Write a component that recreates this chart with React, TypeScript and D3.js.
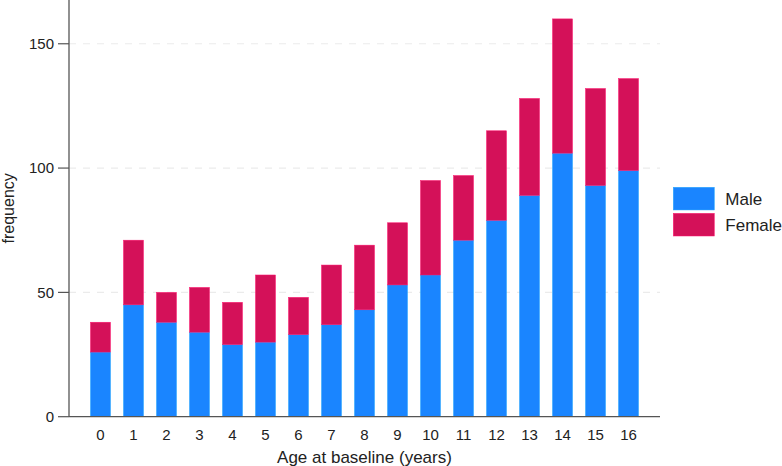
import React from 'react';
import * as d3 from 'd3';

const ages = ['0', '1', '2', '3', '4', '5', '6', '7', '8', '9', '10', '11', '12', '13', '14', '15', '16'];
const male = [26, 45, 38, 34, 29, 30, 33, 37, 43, 53, 57, 71, 79, 89, 106, 93, 99];
const female = [12, 26, 12, 18, 17, 27, 15, 24, 26, 25, 38, 26, 36, 39, 54, 39, 37];
const yTicks = [0, 50, 100, 150];
const seriesNames = ['Male', 'Female'];
const seriesColors = ['#1A85FF', '#D41159'];

const width = 782;
const height = 466;
const left = 69;
const right = 660;
const bottom = 416.7;
const font = '"Liberation Sans", Arial, sans-serif';
const textColor = '#222';

const App = () => {
  const x = d3.scaleBand<string>()
    .domain(ages)
    .range([left, right])
    .paddingInner(0.394)
    .paddingOuter(0.651);

  const y = d3.scaleLinear().domain([0, 167.6]).range([bottom, 0]);

  const rows = ages.map((age, i) => ({ age, Male: male[i], Female: female[i] }));
  const stacked = d3.stack<any>().keys(seriesNames)(rows);

  const legend = d3.scaleBand<string>().domain(seriesNames).range([187.3, 236]).paddingInner(0.13);

  return (
    <svg width={width} height={height} style={{ position: 'absolute', left: 0, top: 0, background: '#fff' }}>
      {/* dashed grid */}
      {yTicks.filter(t => t > 0).map(t => (
        <line key={t} x1={left} x2={right} y1={y(t)} y2={y(t)}
          stroke="#ebebeb" strokeWidth={1.2} strokeDasharray="7,7" />
      ))}

      {/* stacked bars */}
      {stacked.map((layer, si) => (
        <g key={layer.key} fill={seriesColors[si]}>
          {layer.map((d, i) => (
            <rect key={i} x={x(ages[i])} width={x.bandwidth()}
              y={y(d[1])} height={y(d[0]) - y(d[1])}
              stroke={d3.color(seriesColors[si])!.brighter(0.6).toString()} strokeWidth={0.5} />
          ))}
        </g>
      ))}

      {/* axes */}
      <line x1={left} x2={left} y1={0} y2={bottom} stroke="#555" strokeWidth={1.3} />
      <line x1={left} x2={right} y1={bottom} y2={bottom} stroke="#555" strokeWidth={1.3} />
      {yTicks.map(t => (
        <g key={t} transform={`translate(0,${y(t)})`}>
          <line x1={left - 11} x2={left} stroke="#555" strokeWidth={1.2} />
          <text x={54} dy="0.36em" textAnchor="end" fontFamily={font} fontSize={15} fill={textColor}>{t}</text>
        </g>
      ))}
      {ages.map(a => (
        <text key={a} x={x(a)! + x.bandwidth() / 2} y={440} textAnchor="middle"
          fontFamily={font} fontSize={15} fill={textColor}>{a}</text>
      ))}

      <text x={(left + right) / 2} y={463} textAnchor="middle" fontFamily={font} fontSize={17} fill={textColor}>
        Age at baseline (years)
      </text>
      <text transform={`translate(14,${(bottom) / 2}) rotate(-90)`} textAnchor="middle"
        fontFamily={font} fontSize={16} fill={textColor}>frequency</text>

      {/* legend */}
      {seriesNames.map((name, i) => (
        <g key={name} transform={`translate(673.3,${legend(name)})`}>
          <rect width={41} height={legend.bandwidth()} fill={seriesColors[i]}
            stroke={d3.color(seriesColors[i])!.brighter(0.6).toString()} strokeWidth={0.5} />
          <text x={52} y={legend.bandwidth() / 2} dy="0.36em" fontFamily={font} fontSize={17} fill={textColor}>{name}</text>
        </g>
      ))}
    </svg>
  );
};

export default App;
